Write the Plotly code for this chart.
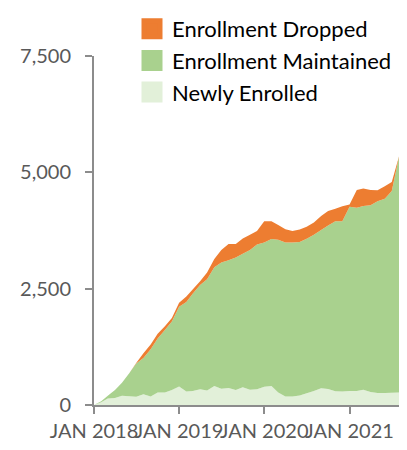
import pandas as pd
import plotly.graph_objects as go

months = pd.date_range("2018-01-01", "2021-08-01", freq="MS")

# Stacked values (monthly)
newly_enrolled = [0, 60, 140, 150, 200, 190, 175, 230, 185, 270, 270, 320,
                  400, 290, 300, 340, 310, 410, 350, 365, 320, 380, 330, 340,
                  390, 410, 270, 185, 180, 205, 250, 300, 360, 345, 295, 290,
                  300, 300, 330, 280, 260, 260, 265, 270]
green_top = [0, 80, 200, 320, 480, 680, 890, 1010, 1200, 1430, 1610, 1795,
             2110, 2215, 2395, 2580, 2700, 2960, 3060, 3110, 3170, 3250, 3330, 3450,
             3490, 3570, 3550, 3490, 3490, 3505, 3575, 3660, 3760, 3860, 3950, 3950,
             4260, 4240, 4275, 4295, 4380, 4430, 4600, 5330]
total = [0, 80, 200, 320, 480, 680, 900, 1110, 1300, 1530, 1690, 1870,
         2200, 2330, 2490, 2660, 2850, 3140, 3330, 3460, 3460, 3580, 3660, 3740,
         3950, 3950, 3870, 3775, 3740, 3770, 3830, 3920, 4060, 4170, 4220, 4270,
         4310, 4620, 4650, 4620, 4615, 4700, 4790, 5340]
maintained = [g - n for g, n in zip(green_top, newly_enrolled)]
dropped = [t - g for t, g in zip(total, green_top)]

tick_dates = ["2018-01-01", "2019-01-01", "2020-01-01", "2021-01-01"]
tick_labels = ["JAN 2018", "JAN 2019", "JAN 2020", "JAN 2021"]
y_ticks = [0, 2500, 5000, 7500]
y_labels = ["0", "2,500", "5,000", "7,500"]

series = [
    ("Newly Enrolled", newly_enrolled, "#E2F0D9"),
    ("Enrollment Maintained", maintained, "#A9D18E"),
    ("Enrollment Dropped", dropped, "#ED7D31"),
]

FONT = "Lato"
GRAY = "#595959"
AXIS = "#8C8C8C"

fig = go.Figure()
for name, vals, col in series:
    fig.add_trace(go.Scatter(
        x=months, y=vals, name=name, stackgroup="one", mode="none",
        fillcolor=col, line=dict(width=0), showlegend=False,
        hoverinfo="x+y+name"))
# legend entries (square swatches), top entry first
for name, vals, col in reversed(series):
    fig.add_trace(go.Scatter(
        x=[None], y=[None], name=name, mode="markers", legendgroup=name,
        marker=dict(symbol="square", size=16, color=col,
                    line=dict(color=col, width=5)),
        showlegend=True))

# The page body has an 8px margin, so the figure is 8px smaller and offset.
fig.update_layout(
    width=399, height=442,
    margin=dict(l=86, r=8, t=48, b=45, autoexpand=False),
    paper_bgcolor="white", plot_bgcolor="white",
    font=dict(family=FONT, size=20, color=GRAY),
    showlegend=True,
    legend=dict(xref="container", yref="container",
                x=124 / 399, y=1.0, xanchor="left", yanchor="top",
                traceorder="grouped", itemsizing="trace",
                font=dict(family=FONT, size=22, color="#000000"),
                bgcolor="rgba(0,0,0,0)", tracegroupgap=0, itemwidth=30),
    xaxis=dict(range=["2018-01-01", "2021-08-01"], tickvals=tick_dates,
               ticktext=tick_labels, showgrid=False, zeroline=False,
               showline=True, linecolor=AXIS, linewidth=2,
               ticks="outside", ticklen=7, tickcolor=AXIS, tickwidth=2,
               tickfont=dict(family=FONT, size=20, color=GRAY), tickangle=0,
               automargin=False),
    yaxis=dict(range=[0, 7500], tickvals=y_ticks, ticktext=y_labels,
               showgrid=False, zeroline=False, showline=True, linecolor=AXIS,
               linewidth=2, ticks="outside", ticklen=7, tickcolor=AXIS,
               tickwidth=2, ticklabelstandoff=10, automargin=False,
               tickfont=dict(family=FONT, size=20, color=GRAY)),
)

fig.write_html("out.html")
